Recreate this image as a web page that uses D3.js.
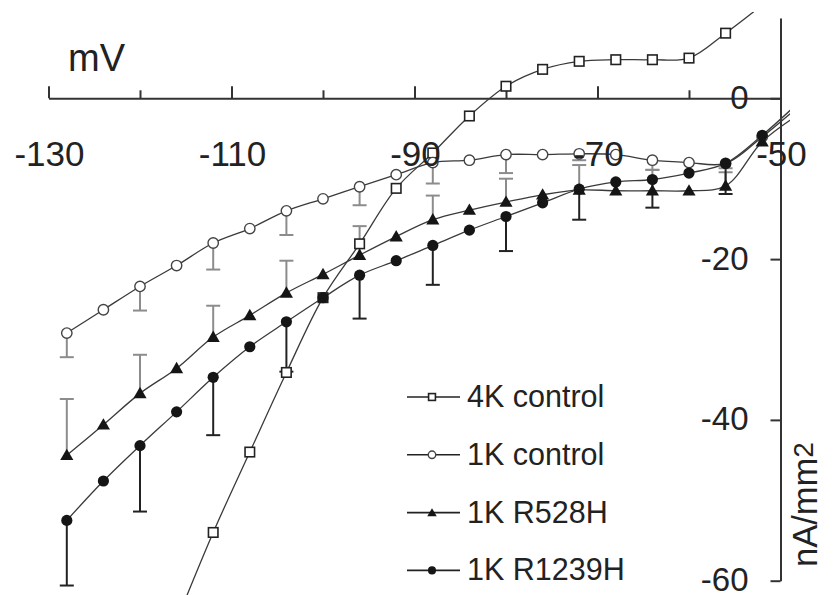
<!DOCTYPE html>
<html><head><meta charset="utf-8">
<script src="https://cdn.jsdelivr.net/npm/d3@7"></script>
<style>body{margin:0;background:#fff}svg{display:block}text{font-family:"Liberation Sans",Arial,sans-serif;fill:#222}</style>
</head><body>
<svg id="c" width="837" height="595"></svg>
<script>
// ---- data ----
const volts1K = [-128,-124,-120,-116,-112,-108,-104,-100,-96,-92,-88,-84,-80,-76,-72,-68,-64,-60,-56,-52,-48];
const volts4K = [-116,-112,-108,-104,-100,-96,-92,-88,-84,-80,-76,-72,-68,-64,-60,-56,-52];
const control4K = [-65,-54.0,-44.0,-34.1,-24.8,-18.1,-11.2,-6.8,-2.2,1.5,3.6,4.6,4.8,4.8,5.0,8.1,11.6];
const control1K = [-29.2,-26.3,-23.4,-20.8,-18.0,-16.2,-14.0,-12.5,-11.0,-9.5,-8.0,-7.7,-7.0,-7.0,-6.9,-7.0,-7.7,-8.0,-8.1,-4.8,-1.0];
const r528h1K = [-44.4,-40.6,-36.7,-33.6,-29.7,-27.0,-24.2,-21.9,-19.5,-17.2,-15.1,-13.9,-12.9,-12.0,-11.4,-11.5,-11.5,-11.5,-10.9,-5.4,-2.0];
const r1239h1K = [-52.5,-47.6,-43.2,-39.0,-34.7,-30.9,-27.8,-24.8,-22.0,-20.2,-18.3,-16.4,-14.7,-13.0,-11.3,-10.4,-10.1,-9.3,-8.1,-4.6,-0.5];
// error bars (SEM), null = none drawn
const errControl1K = [3.0,null,3.0,null,3.3,null,3.0,null,2.3,null,2.6,null,2.3,null,0.8,null,1.2,null,0.6,null,null];
const errR528H = [7.0,null,4.8,null,3.9,null,4.0,null,3.6,null,3.0,null,2.9,null,3.1,null,2.6,null,1.7,null,null];
const errR1239H = [8.1,null,8.2,null,7.2,null,6.2,null,5.4,null,4.9,null,4.3,null,3.8,null,3.5,null,3.8,null,null];
const xMajorTicks = [-130,-110,-90,-70];
const xMinorTicks = [-120,-100,-80,-60];
const xTickLabels = [-130,-110,-90,-70,-50];
const yTicks = [0,-20,-40,-60];
const legendLabels = ["4K control","1K control","1K R528H","1K R1239H"];

// ---- scales ----
const svg = d3.select("#c");
const x = d3.scaleLinear().domain([-130,-50]).range([48.5,780.5]);
const y = d3.scaleLinear().domain([0,-60]).range([98.3,580.7]);
const X0 = x(-50), Y0 = y(0);

// clip
svg.append("defs").append("clipPath").attr("id","clip")
  .append("rect").attr("x",0).attr("y",12).attr("width",790).attr("height",600);

// ---- axes ----
const gx = svg.append("g").attr("transform",`translate(0,${Y0})`);
gx.call(d3.axisTop(x).tickValues(xMajorTicks).tickSizeInner(12).tickSizeOuter(0).tickFormat(""));
gx.append("g").call(d3.axisTop(x).tickValues(xMinorTicks).tickSizeInner(8).tickSizeOuter(0).tickFormat(""))
  .select(".domain").remove();
gx.selectAll("path,line").attr("stroke","#333").attr("stroke-width",2);

const yAxisScale = d3.scaleLinear().domain([10,-60]).range([y(10),y(-60)]);
const gy = svg.append("g").attr("transform",`translate(${X0},0)`);
gy.call(d3.axisLeft(yAxisScale).tickValues(yTicks).tickSizeInner(10).tickSizeOuter(0).tickPadding(22).tickFormat(d=>d));
gy.selectAll("path,line").attr("stroke","#333").attr("stroke-width",2);
gy.selectAll("text").attr("font-size",33).attr("fill","#222").attr("font-family","Liberation Sans, Arial, sans-serif").attr("dy","0.3em");

// ---- plot ----
const plot = svg.append("g").attr("clip-path","url(#clip)");
const s1K = [
  {name:"control", vals:control1K, err:errControl1K, dir:-1, ecol:"#8c8c8c"},
  {name:"r528h", vals:r528h1K, err:errR528H, dir:1, ecol:"#8c8c8c"},
  {name:"r1239h", vals:r1239h1K, err:errR1239H, dir:-1, ecol:"#222"}
];
// error bars
s1K.forEach(s=>{
  const pts = volts1K.map((v,i)=>({v, val:s.vals[i], e:s.err[i]})).filter(d=>d.e!=null);
  const g = plot.append("g").attr("stroke",s.ecol).attr("stroke-width",2);
  pts.forEach(d=>{
    const yEnd = y(d.val + s.dir*d.e);
    g.append("line").attr("x1",x(d.v)).attr("x2",x(d.v)).attr("y1",y(d.val)).attr("y2",yEnd);
    g.append("line").attr("x1",x(d.v)-7).attr("x2",x(d.v)+7).attr("y1",yEnd).attr("y2",yEnd);
  });
});

const line = d3.line().x(d=>x(d[0])).y(d=>y(d[1])).curve(d3.curveCatmullRom.alpha(0.5));
function drawLine(xs, vals){
  plot.append("path").datum(xs.map((v,i)=>[v,vals[i]]))
    .attr("d",line).attr("fill","none").attr("stroke","#3a3a3a").attr("stroke-width",1.3);
}
drawLine(volts4K, control4K);
drawLine(volts1K, control1K);
drawLine(volts1K, r528h1K);
drawLine(volts1K, r1239h1K);

const tri = d3.symbol().type(d3.symbolTriangle);
function marker(g, kind, cx, cy, small){
  const k = small ? 0.72 : 1;
  if(kind==="square"){
    const a = 9.5*k;
    g.append("rect").attr("x",cx-a/2).attr("y",cy-a/2).attr("width",a).attr("height",a)
      .attr("fill","#fff").attr("stroke","#222").attr("stroke-width",1.6);
  } else if(kind==="open"){
    g.append("circle").attr("cx",cx).attr("cy",cy).attr("r",5.2*k)
      .attr("fill","#fff").attr("stroke","#444").attr("stroke-width",1.4);
  } else if(kind==="tri"){
    g.append("path").attr("d",tri.size(75*k*k)()).attr("transform",`translate(${cx},${cy+1})`).attr("fill","#151515");
  } else {
    g.append("circle").attr("cx",cx).attr("cy",cy).attr("r",5.6*k).attr("fill","#151515");
  }
}
const mk = plot.append("g");
volts4K.forEach((v,i)=>marker(mk,"square",x(v),y(control4K[i])));
volts1K.forEach((v,i)=>marker(mk,"open",x(v),y(control1K[i])));
volts1K.forEach((v,i)=>marker(mk,"tri",x(v),y(r528h1K[i])));
volts1K.forEach((v,i)=>marker(mk,"filled",x(v),y(r1239h1K[i])));

// ---- x tick labels ----
svg.append("g").selectAll("text").data(xTickLabels).join("text")
  .attr("x",d=>x(d)+1).attr("y",166).attr("text-anchor","middle").attr("font-size",35).text(d=>d);

// axis titles
svg.append("text").attr("x",68).attr("y",70.5).attr("font-size",38).text("mV");
const yt = svg.append("text").attr("transform","translate(817,567) rotate(-90)").attr("font-size",34.5);
yt.append("tspan").text("nA/mm");
yt.append("tspan").attr("font-size",28).attr("dy",-4).text("2");

// ---- legend ----
const kinds = ["square","open","tri","filled"];
const lg = svg.append("g");
legendLabels.forEach((lab,i)=>{
  const ly = 397 + i*57.8;
  lg.append("line").attr("x1",407).attr("x2",460).attr("y1",ly).attr("y2",ly).attr("stroke","#222").attr("stroke-width",1.6);
  marker(lg,kinds[i],432,ly,true);
  lg.append("text").attr("x",467).attr("y",ly+10).attr("font-size",30.5).text(lab);
});
</script>
</body></html>
